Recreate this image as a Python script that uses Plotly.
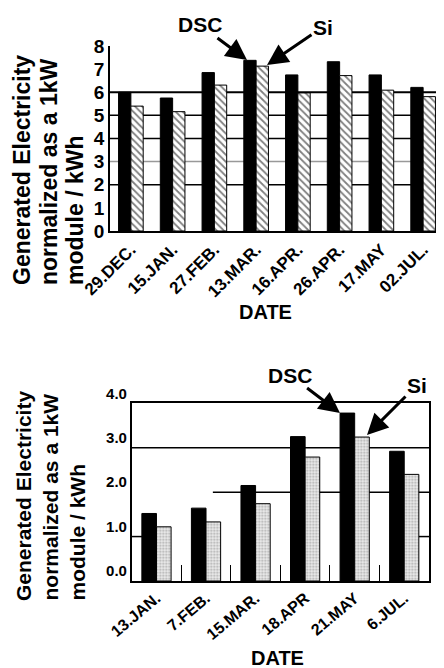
import plotly.graph_objects as go

# page offset: the browser adds an 8px body margin
OFF = 8
W, H = 444 - OFF, 668 - OFF

# ---- data ----
dates_top = ["29.DEC.", "15.JAN.", "27.FEB.", "13.MAR.", "16.APR.", "26.APR.", "17.MAY", "02.JUL."]
dsc_top = [6.0, 5.75, 6.85, 7.38, 6.75, 7.32, 6.75, 6.21]
si_top = [5.40, 5.16, 6.31, 7.13, 5.97, 6.72, 6.09, 5.81]

dates_bot = ["13.JAN.", "7.FEB.", "15.MAR.", "18.APR", "21.MAY", "6.JUL."]
dsc_bot = [1.52, 1.64, 2.15, 3.25, 3.78, 2.92]
si_bot = [1.22, 1.33, 1.74, 2.79, 3.24, 2.40]

ytick_top = [0, 1, 2, 3, 4, 5, 6, 7, 8]
ytick_bot = [0, 1, 2, 3, 4]
ytick_bot_text = ["0.0", "1.0", "2.0", "3.0", "4.0"]

ytitle_lines = ["Generated Electricity", "normalized as a 1kW", "module / kWh"]

FONT = "Liberation Sans"


def px(x):
    return (x - OFF) / W


def py(y):
    return 1 - (y - OFF) / H


fig = go.Figure()

fig.add_trace(go.Bar(x=dates_top, y=dsc_top, name="DSC", xaxis="x", yaxis="y",
                     marker=dict(color="black", line=dict(color="black", width=1))))
fig.add_trace(go.Bar(x=dates_top, y=si_top, name="Si", xaxis="x", yaxis="y",
                     marker=dict(color="white", line=dict(color="black", width=1),
                                 pattern=dict(shape="\\", fgcolor="black", bgcolor="white",
                                              size=5, solidity=0.35))))
fig.add_trace(go.Bar(x=dates_bot, y=dsc_bot, name="DSC", xaxis="x2", yaxis="y2",
                     marker=dict(color="black", line=dict(color="black", width=1))))
fig.add_trace(go.Bar(x=dates_bot, y=si_bot, name="Si", xaxis="x2", yaxis="y2",
                     marker=dict(color="#e4e4e4", line=dict(color="black", width=1),
                                 pattern=dict(shape=".", fgcolor="#666", bgcolor="#eeeeee",
                                              size=3, solidity=0.4))))

tickfont_top = dict(family=FONT, size=19, color="black", weight="bold")
tickfont_x = dict(family=FONT, size=17, color="black", weight="bold")

fig.update_layout(
    width=W, height=H, showlegend=False,
    margin=dict(l=0, r=0, t=0, b=0, autoexpand=False),
    paper_bgcolor="white", plot_bgcolor="white",
    barmode="group", bargap=0.41, bargroupgap=0,
    xaxis=dict(domain=[px(110), px(444)], anchor="y", showgrid=False, automargin=False,
               showline=True, linecolor="black", linewidth=2,
               ticks="", tickangle=-45, tickfont=tickfont_x),
    yaxis=dict(domain=[py(231), py(46)], anchor="x", range=[0, 8], automargin=False,
               tickvals=ytick_top, showgrid=False, zeroline=False,
               showline=True, linecolor="black", linewidth=1.5,
               ticks="", tickfont=tickfont_top),
    xaxis2=dict(domain=[px(131.7), px(429)], anchor="y2", showgrid=False, automargin=False,
                showline=True, linecolor="black", linewidth=1.5, mirror=True,
                ticks="inside", tickson="boundaries", ticklen=16, tickcolor="black",
                tickangle=-40, tickfont=dict(family=FONT, size=16, color="black", weight="bold")),
    yaxis2=dict(domain=[py(581), py(403.3)], anchor="x2", range=[0, 4], automargin=False,
                tickvals=ytick_bot, ticktext=ytick_bot_text, showgrid=False, zeroline=False,
                showline=True, linecolor="black", linewidth=1.5, mirror=True,
                ticks="", ticklabelshift=-10,
                tickfont=dict(family=FONT, size=15, color="black", weight="bold")),
)

# gridlines (top chart)
grid_top = [(2, "black", 1.5), (3, "#999999", 1.5), (4, "black", 1.5), (5, "black", 1.5), (6, "black", 2)]
for v, c, w in grid_top:
    fig.add_shape(type="line", xref="x domain", yref="y", x0=0, x1=1, y0=v, y1=v,
                  line=dict(color=c, width=w), layer="below")

# gridlines (bottom chart)
fig.add_shape(type="line", xref="x2 domain", yref="y2", x0=0, x1=1, y0=3, y1=3,
              line=dict(color="black", width=1.5), layer="below")
fig.add_shape(type="line", xref="x2 domain", yref="y2", x0=0.273, x1=1, y0=2, y1=2,
              line=dict(color="black", width=1.5), layer="below")
fig.add_shape(type="line", xref="x2 domain", yref="y2", x0=0, x1=0.035, y0=1, y1=1,
              line=dict(color="black", width=1.5), layer="below")
fig.add_shape(type="line", xref="x2 domain", yref="y2", x0=0.965, x1=1, y0=1, y1=1,
              line=dict(color="black", width=1.5), layer="below")

annotations = []
# y-axis titles: three bottom-aligned rotated lines each
for xs, ybot, size in [((22, 48.5, 75), 287, 23), ((23, 50, 77), 603, 21)]:
    for line, xc in zip(ytitle_lines, xs):
        annotations.append(dict(text=line, x=px(xc), y=py(ybot), xref="paper", yref="paper",
                                showarrow=False, textangle=-90,
                                font=dict(family=FONT, size=size, color="black", weight="bold"),
                                xanchor="center", yanchor="bottom"))

date_font = dict(family=FONT, size=20, color="black", weight="bold")
annotations += [
    dict(text="DATE", x=px(265.5), y=py(312), xref="paper", yref="paper", showarrow=False,
         font=date_font, xanchor="center", yanchor="middle"),
    dict(text="DATE", x=px(277), y=py(658), xref="paper", yref="paper", showarrow=False,
         font=date_font, xanchor="center", yanchor="middle"),
]

arrow_font = dict(family=FONT, size=21, color="black", weight="bold")
arrows = [
    ("DSC", 247, 60, 200, 25),
    ("Si", 267, 65, 323, 27),
    ("DSC", 340, 413, 290, 375),
    ("Si", 367, 435, 417, 385),
]
for txt, hx, hy, tx, ty in arrows:
    annotations.append(dict(text=txt, x=px(hx), y=py(hy), xref="paper", yref="paper",
                            showarrow=True, ax=tx - hx, ay=ty - hy, arrowhead=2,
                            arrowsize=1.4, arrowwidth=3, arrowcolor="black",
                            font=arrow_font))

fig.update_layout(annotations=annotations)

fig.write_html("out.html")
